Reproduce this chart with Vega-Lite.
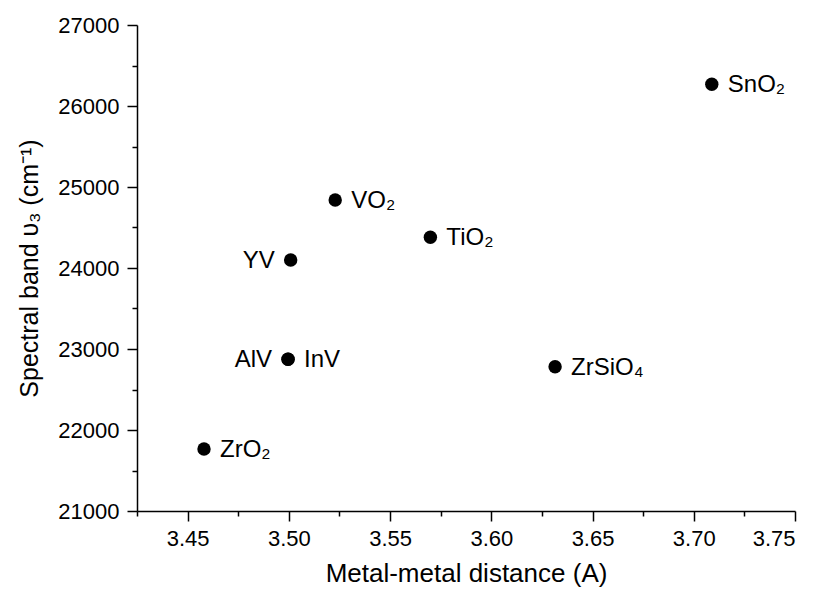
{
  "$schema": "https://vega.github.io/schema/vega-lite/v6.json",
  "width": 658,
  "height": 486,
  "autosize": "none",
  "padding": {"left": 137, "top": 25, "right": 28, "bottom": 83},
  "background": "white",
  "config": {
    "view": {"stroke": null},
    "font": "Liberation Sans",
    "axis": {
      "grid": false,
      "domainColor": "black",
      "domainWidth": 1.5,
      "tickColor": "black",
      "tickWidth": 1.5,
      "labelColor": "black",
      "labelFont": "Liberation Sans",
      "labelFontSize": 22,
      "titleColor": "black",
      "titleFont": "Liberation Sans",
      "titleFontWeight": "normal"
    }
  },
  "data": {
    "values": [
      {"x": 3.4581, "y": 21765, "label": "ZrO₂"},
      {"x": 3.4996, "y": 22873, "label": "AlV"},
      {"x": 3.4996, "y": 22873, "label": "InV"},
      {"x": 3.5009, "y": 24099, "label": "YV"},
      {"x": 3.5229, "y": 24840, "label": "VO₂"},
      {"x": 3.5699, "y": 24379, "label": "TiO₂"},
      {"x": 3.6315, "y": 22781, "label": "ZrSiO₄"},
      {"x": 3.7089, "y": 26268, "label": "SnO₂"}
    ]
  },
  "resolve": {"axis": {"x": "independent", "y": "independent"}},
  "layer": [
    {
      "mark": {"type": "circle", "size": 180, "color": "black", "opacity": 1},
      "encoding": {
        "x": {
          "field": "x", "type": "quantitative",
          "scale": {"domain": [3.425, 3.75], "nice": false, "zero": false},
          "axis": {
            "orient": "bottom",
            "values": [3.45, 3.5, 3.55, 3.6, 3.65, 3.7, 3.75],
            "format": ".2f",
            "tickSize": 10,
            "labelPadding": 7,
            "title": "Metal-metal distance (A)",
            "titleFontSize": 26,
            "titlePadding": 11
          }
        },
        "y": {
          "field": "y", "type": "quantitative",
          "scale": {"domain": [21000, 27000], "nice": false, "zero": false},
          "axis": {
            "orient": "left",
            "values": [21000, 22000, 23000, 24000, 25000, 26000, 27000],
            "format": "d",
            "tickSize": 10,
            "labelPadding": 8,
            "title": "Spectral band υ₃ (cm⁻¹)",
            "titleFontSize": 25,
            "titlePadding": 15
          }
        }
      }
    },
    {
      "transform": [{"filter": "datum.label != 'YV' && datum.label != 'AlV'"}],
      "mark": {"type": "text", "align": "left", "baseline": "alphabetic", "dx": 16, "dy": 8, "fontSize": 24, "color": "black", "font": "Liberation Sans"},
      "encoding": {
        "x": {
          "field": "x", "type": "quantitative",
          "axis": {
            "orient": "bottom",
            "values": [3.425, 3.475, 3.525, 3.575, 3.625, 3.675, 3.725],
            "tickSize": 5,
            "labels": false,
            "domain": false,
            "title": null
          }
        },
        "y": {
          "field": "y", "type": "quantitative",
          "axis": {
            "orient": "left",
            "values": [21500, 22500, 23500, 24500, 25500, 26500],
            "tickSize": 5,
            "labels": false,
            "domain": false,
            "title": null
          }
        },
        "text": {"field": "label"}
      }
    },
    {
      "transform": [{"filter": "datum.label == 'YV' || datum.label == 'AlV'"}],
      "mark": {"type": "text", "align": "right", "baseline": "alphabetic", "dx": -16, "dy": 8, "fontSize": 24, "color": "black", "font": "Liberation Sans"},
      "encoding": {
        "x": {"field": "x", "type": "quantitative", "axis": null},
        "y": {"field": "y", "type": "quantitative", "axis": null},
        "text": {"field": "label"}
      }
    }
  ]
}
